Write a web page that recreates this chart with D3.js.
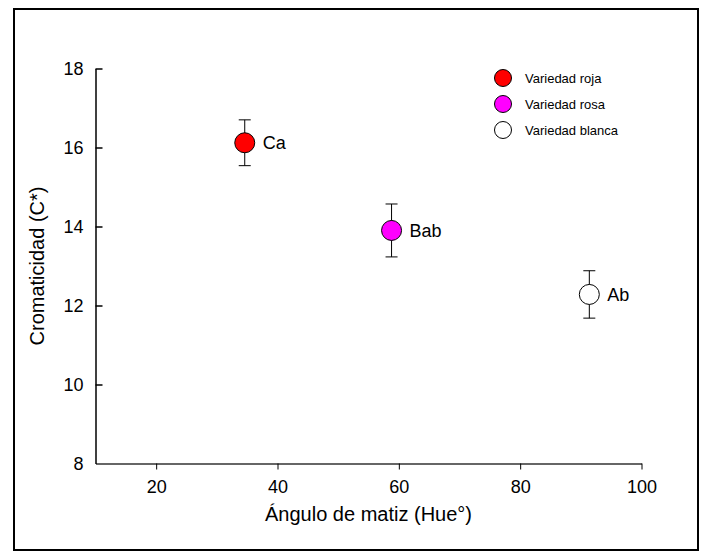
<!DOCTYPE html>
<html lang="es">
<head>
    <meta charset="UTF-8">
    <style>
        body { margin: 0; background: #fff; }
        #chart { width: 705px; height: 552px; }
        text { font-family: "Liberation Sans", Arial, sans-serif; fill: #000; }
    </style>
    <script src="https://d3js.org/d3.v7.min.js"></script>
</head>
<body>
    <div id="chart"></div>

    <script>
        // Data
        var varieties = ["Variedad roja", "Variedad rosa", "Variedad blanca"];
        var fillColors = ["#ff0000", "#ff00ff", "#ffffff"];
        var hueValues = [34.6, 58.8, 91.4];
        var chromaValues = [16.12, 13.9, 12.28];
        var chromaErrors = [0.58, 0.67, 0.6];
        var pointLabels = ["Ca", "Bab", "Ab"];
        var xTicks = [20, 40, 60, 80, 100];
        var yTicks = [8, 10, 12, 14, 16, 18];

        var svg = d3.select("#chart")
            .append("svg")
            .attr("width", 705)
            .attr("height", 552);

        // outer frame
        svg.append("rect")
            .attr("x", 14).attr("y", 9)
            .attr("width", 684).attr("height", 541)
            .attr("fill", "none")
            .attr("stroke", "#000")
            .attr("stroke-width", 2);

        var x = d3.scaleLinear().domain([10, 100]).range([95.5, 641.5]);
        var y = d3.scaleLinear().domain([8, 18]).range([463.5, 68.5]);

        // x axis, ticks pointing outward
        var xAxis = svg.append("g")
            .attr("transform", "translate(0," + y(8) + ")")
            .call(d3.axisBottom(x).tickValues(xTicks).tickSize(6).tickSizeOuter(0).tickPadding(11));
        xAxis.select(".domain").attr("stroke-width", 1.5).attr("stroke", "#333");
        xAxis.selectAll("text").style("font-size", "18px");

        // y axis, ticks pointing inward
        var yAxis = svg.append("g")
            .attr("transform", "translate(" + x(10) + ",0)")
            .call(d3.axisLeft(y).tickValues(yTicks).tickSize(-7).tickSizeOuter(0).tickPadding(12));
        yAxis.select(".domain").attr("stroke-width", 1.5);
        yAxis.selectAll(".tick line").attr("stroke-width", 1.5);
        yAxis.selectAll("text").style("font-size", "18px");
        // no tick mark at the origin
        yAxis.selectAll(".tick").filter(d => d === 8).select("line").remove();

        // axis titles
        svg.append("text")
            .attr("x", (x(10) + x(100)) / 2)
            .attr("y", 521)
            .attr("text-anchor", "middle")
            .style("font-size", "20px")
            .text("Ángulo de matiz (Hue°)");

        svg.append("text")
            .attr("transform", "translate(44," + ((y(8) + y(18)) / 2) + ") rotate(-90)")
            .attr("text-anchor", "middle")
            .style("font-size", "20px")
            .text("Cromaticidad (C*)");

        var idx = d3.range(hueValues.length);

        // error bars
        var bars = svg.append("g").selectAll("g")
            .data(idx)
            .enter().append("g");
        bars.append("line")
            .attr("x1", i => x(hueValues[i])).attr("x2", i => x(hueValues[i]))
            .attr("y1", i => y(chromaValues[i] + chromaErrors[i]))
            .attr("y2", i => y(chromaValues[i] - chromaErrors[i]))
            .attr("stroke", "#000");
        bars.append("line")
            .attr("x1", i => x(hueValues[i]) - 6).attr("x2", i => x(hueValues[i]) + 6)
            .attr("y1", i => y(chromaValues[i] + chromaErrors[i]))
            .attr("y2", i => y(chromaValues[i] + chromaErrors[i]))
            .attr("stroke", "#000");
        bars.append("line")
            .attr("x1", i => x(hueValues[i]) - 6).attr("x2", i => x(hueValues[i]) + 6)
            .attr("y1", i => y(chromaValues[i] - chromaErrors[i]))
            .attr("y2", i => y(chromaValues[i] - chromaErrors[i]))
            .attr("stroke", "#000");

        // points
        svg.append("g").selectAll("circle")
            .data(idx)
            .enter().append("circle")
            .attr("cx", i => x(hueValues[i]))
            .attr("cy", i => y(chromaValues[i]))
            .attr("r", 10)
            .attr("fill", i => fillColors[i])
            .attr("stroke", "#000");

        // letter labels
        svg.append("g").selectAll("text")
            .data(idx)
            .enter().append("text")
            .attr("x", i => x(hueValues[i]) + 18)
            .attr("y", i => y(chromaValues[i]))
            .attr("dy", "0.35em")
            .style("font-size", "18px")
            .text(i => pointLabels[i]);

        // legend
        var legend = svg.append("g").selectAll("g")
            .data(idx)
            .enter().append("g")
            .attr("transform", i => "translate(503," + (78 + i * 26) + ")");
        legend.append("circle")
            .attr("r", 8.5)
            .attr("fill", i => fillColors[i])
            .attr("stroke", "#000");
        legend.append("text")
            .attr("x", 22)
            .attr("dy", "0.35em")
            .style("font-size", "13px")
            .text(i => varieties[i]);
    </script>
</body>
</html>
